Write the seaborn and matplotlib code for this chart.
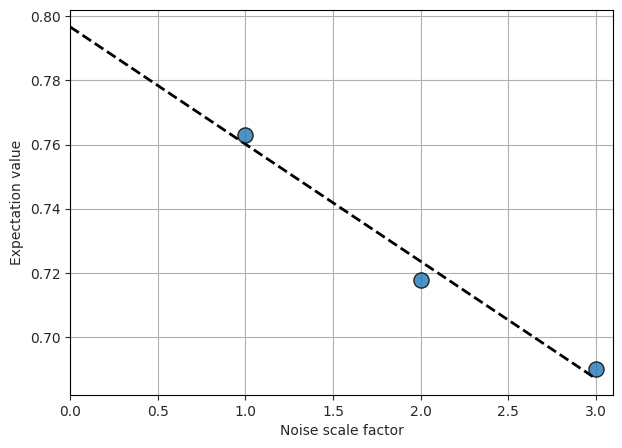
import numpy as np
import seaborn as sns
import matplotlib.pyplot as plt

# Noise scale factors and measured expectation values
scale_factors = [1.0, 2.0, 3.0]
expectation_values = [0.763, 0.718, 0.690]

sns.set_style("ticks")
plt.rcParams['font.family'] = ['DejaVu Sans']

fig, ax = plt.subplots(figsize=(6.22, 4.48), dpi=100)

# Linear extrapolation to zero noise
slope, intercept = np.polyfit(scale_factors, expectation_values, 1)
x_fit = np.array([0.0, max(scale_factors)])
ax.plot(x_fit, slope * x_fit + intercept, color='black', linestyle='--', linewidth=2, zorder=2)

sns.scatterplot(x=scale_factors, y=expectation_values, s=120, color='#1f77b4', alpha=0.8,
                edgecolor='black', linewidth=1, ax=ax, zorder=3)

ax.set_xlim(0, 3.1)
ax.set_ylim(0.682, 0.802)
ax.set_xlabel('Noise scale factor')
ax.set_ylabel('Expectation value')
ax.grid(True, color='#b0b0b0', linewidth=0.8)
ax.set_axisbelow(True)
for s in ax.spines.values():
    s.set_visible(True)
    s.set_color('black')

fig.subplots_adjust(left=0.113, right=0.986, top=0.978, bottom=0.118)
fig.savefig('out.png', dpi=100)
